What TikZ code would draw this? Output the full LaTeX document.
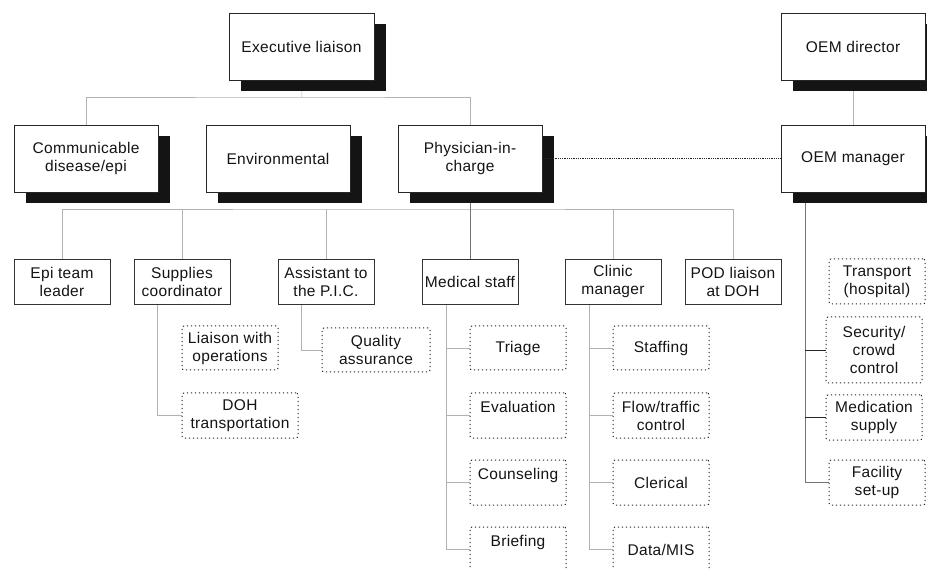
\documentclass[tikz,border=0pt]{standalone}
\usepackage{fontspec}
\setmainfont{Liberation Sans}[LetterSpace=2]
\usetikzlibrary{shadows,backgrounds}
\begin{document}
\begin{tikzpicture}[x=1pt,y=-1pt,
 txt/.style={font=\fontsize{15.5}{18}\selectfont, text=black!92, align=center, inner sep=0pt, outer sep=0pt},
 bigbox/.style={txt, draw=black!85, line width=0.9pt, fill=white, minimum width=144pt, minimum height=67pt,
   drop shadow={shadow xshift=12pt, shadow yshift=-11pt, fill=black!92, opacity=1}},
 unitbox/.style={txt, draw=black!80, line width=0.9pt, fill=white, minimum width=96pt, minimum height=45pt},
 taskbox/.style={txt, draw=black!85, dash pattern=on 1.2pt off 2.8pt, line width=1pt, rounded corners=2pt, fill=white, minimum width=96pt, minimum height=45pt},
 conn/.style={draw=black!30, line width=0.5pt},
 conndark/.style={draw=black!55, line width=0.6pt},
 link/.style={draw=black!85, line width=0.8pt}]
\clip (0,0) rectangle (927,569);
% top level
\node[bigbox, minimum width=145pt] (exec) at (301.5,46.5) {Executive liaison};
\node[bigbox] (oemd) at (853,46.5) {OEM director};
\node[bigbox] (comm) at (86,158.5) {Communicable\\disease/epi};
\node[bigbox] (env) at (278,158.5) {Environmental};
\node[bigbox] (phys) at (470,158.5) {Physician-in-\\charge};
\node[bigbox] (oemm) at (853,158.5) {OEM manager};
% second row
\node[unitbox] (epi) at (62,281.5) {Epi team\\leader};
\node[unitbox] (sup) at (182,281.5) {Supplies\\coordinator};
\node[unitbox] (asst) at (326,281.5) {Assistant to\\the P.I.C.};
\node[unitbox] (med) at (470,281.5) {Medical staff};
\node[unitbox] (clin) at (613,281.5) {Clinic\\manager};
\node[unitbox] (pod) at (733,281.5) {POD liaison\\at DOH};
% task boxes
\node[taskbox, minimum height=44pt] (liai) at (230,348) {Liaison with\\operations};
\node[taskbox, minimum width=116pt] (doh) at (240,415.5) {DOH\\transportation};
\node[taskbox, minimum width=108pt, minimum height=44pt] (qa) at (376,350) {Quality\\assurance};
\node[taskbox, minimum height=44pt] (triage) at (518,348) {Triage};
\node[taskbox] (eval) at (518,415.5) {Evaluation\\~};
\node[taskbox] (couns) at (518,482.5) {Counseling\\~};
\node[taskbox] (brief) at (518,549.5) {Briefing\\~};
\node[taskbox, minimum height=44pt] (staff) at (661,348) {Staffing};
\node[taskbox] (flow) at (661,415.5) {Flow/traffic\\control};
\node[taskbox] (cler) at (661,482.5) {Clerical};
\node[taskbox] (data) at (661,549.5) {Data/MIS};
\node[taskbox] (trans) at (877,281.5) {Transport\\(hospital)};
\node[taskbox, minimum height=66pt] (sec) at (874,350) {Security/\\crowd\\control};
\node[taskbox] (medsup) at (874,417.5) {Medication\\supply};
\node[taskbox] (fac) at (877,482.5) {Facility\\set-up};
% connectors
\begin{scope}[on background layer]
\coordinate (top) at (302,97);
\draw[conn] (exec.south) -- (top);
\draw[conn] (comm.north) |- (top) -| (phys.north);
\draw[conn] (oemd.south) -- (oemm.north);
\coordinate (bus) at (400,209);
\draw[conn] (epi.north) |- (bus) -| (pod.north);
\foreach \n in {sup,asst,clin} \draw[conn] (\n.north) -- (\n.north |- bus);
\draw[conndark] (phys.south) -- (med.north);
\coordinate (supl) at ([xshift=-25pt]sup.south);
\draw[conn] (supl) |- (doh.west);
\coordinate (asstl) at ([xshift=-25pt]asst.south);
\draw[conn] (asstl) |- (qa.west);
\coordinate (medl) at ([xshift=-24pt]med.south);
\draw[conn] (medl) |- (brief.west);
\foreach \n in {triage,eval,couns} \draw[conn] (\n.west) -- (\n.west -| medl);
\coordinate (clinl) at ([xshift=-24pt]clin.south);
\draw[conn] (clinl) |- (data.west);
\foreach \n in {staff,flow,cler} \draw[conn] (\n.west) -- (\n.west -| clinl);
\coordinate (oeml) at ([xshift=-48pt]oemm.south);
\draw[conndark] (oeml) |- (fac.west);
\foreach \n in {sec,medsup} \draw[link] (\n.west) -- (\n.west -| oeml);
\end{scope}
\draw[link, densely dotted] (phys.east) -- (oemm.west);
\end{tikzpicture}
\end{document}
